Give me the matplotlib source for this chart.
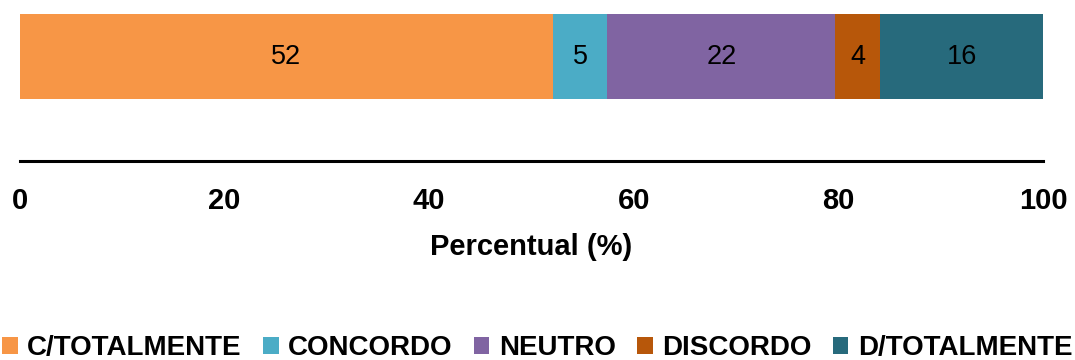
import matplotlib.pyplot as plt

plt.rcParams['font.family'] = ['Liberation Sans', 'DejaVu Sans']

categories = ["C/TOTALMENTE", "CONCORDO", "NEUTRO", "DISCORDO", "D/TOTALMENTE"]
values = [52.1, 5.3, 22.3, 4.4, 15.9]
colors = ["#F79646", "#4BACC6", "#8064A2", "#B7570A", "#276A7C"]
xticks = [0, 20, 40, 60, 80, 100]

fig = plt.figure(figsize=(10.75, 3.6), dpi=100)
ax = fig.add_axes([20 / 1075, 1 - 161 / 360, 1023 / 1075, 147 / 360])

left = 0
for cat, val, col in zip(categories, values, colors):
    bars = ax.barh(0, val, left=left, height=1, color=col, label=cat)
    ax.bar_label(bars, labels=[f"{val:.0f}"], label_type="center", fontsize=19.5, color="black")
    left += val

ax.set_xlim(0, 100)
ax.set_ylim(0.5 - 147 / 85, 0.5)
ax.set_yticks([])
ax.set_xticks(xticks)
ax.tick_params(axis="x", length=0, pad=19, labelsize=21)
for lbl in ax.get_xticklabels():
    lbl.set_fontweight("bold")

for s in ["top", "right", "left"]:
    ax.spines[s].set_visible(False)
ax.spines["bottom"].set_linewidth(2.2)

ax.set_xlabel("Percentual (%)", fontsize=21, fontweight="bold", labelpad=13)

fig.legend(loc="lower center", bbox_to_anchor=(0.5, -0.035), ncol=5, frameon=False,
           prop={"size": 20, "weight": "bold"}, handlelength=0.55, handleheight=0.55,
           handletextpad=0.35, columnspacing=0.77, borderaxespad=0)

fig.savefig("out.png", dpi=100)
